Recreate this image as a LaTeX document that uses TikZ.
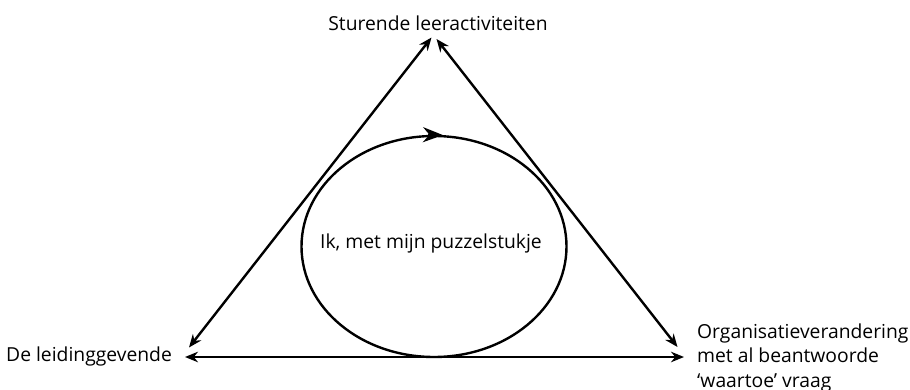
\documentclass[tikz,border=0pt]{standalone}
\usepackage{fontspec}
\setmainfont{Open Sans}
\usetikzlibrary{arrows.meta,shapes.geometric}
\begin{document}
\begin{tikzpicture}[x=1pt,y=-1pt,
  lbl/.style={font=\fontsize{19.3}{24.5}\selectfont, inner sep=0pt},
  conn/.style={line width=2.4pt,{Stealth[length=13pt,width=10.5pt]}-{Stealth[length=13pt,width=10.5pt]}}]
\useasboundingbox (0,0) rectangle (910,390);
\node[lbl,anchor=base] (top) at (438,31) {Sturende leeractiviteiten};
\node[lbl,anchor=base west] (left) at (6,361) {De leidinggevende};
\node[lbl,anchor=base west,align=left] (right) at (697,387) {Organisatieverandering\\met al beantwoorde\\‘waartoe’ vraag};
\coordinate (tl) at (431.5,37.5);
\coordinate (tr) at (436.5,39);
\coordinate (bl) at (189,347.5);
\coordinate (br) at (677.5,347);
\coordinate (bl2) at (185,357);
\coordinate (br2) at (684,357);
\draw[conn] (bl) -- (tl);
\draw[conn] (br) -- (tr);
\draw[conn] (bl2) -- (br2);
\node[draw,ellipse,line width=2.4pt,minimum width=265pt,minimum height=221pt,inner sep=0pt] (cyc) at (434,246.5) {};
\node[lbl,anchor=base] (me) at (431,248) {Ik, met mijn puzzelstukje};
\draw[line width=2.4pt,-{Stealth[length=20pt,width=15pt]}] (cyc.north) ++(-6,0) -- ++(15,0.3);
\end{tikzpicture}
\end{document}
